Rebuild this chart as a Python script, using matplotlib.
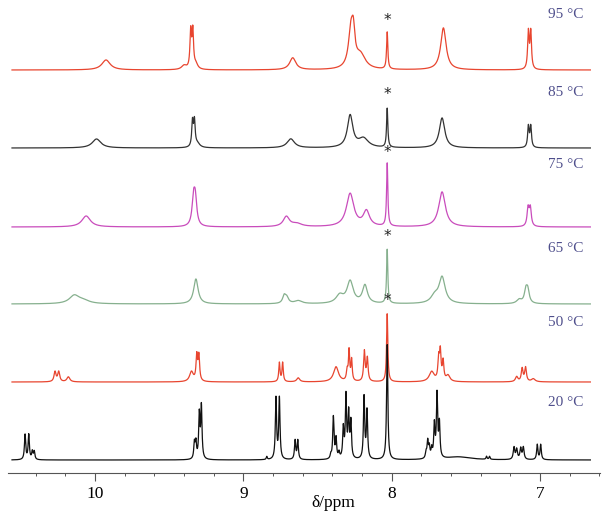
import numpy as np
import matplotlib
matplotlib.use("Agg")
import matplotlib.pyplot as plt
from matplotlib.ticker import MultipleLocator

# Peak lists: (shift / ppm, height / px, half width / ppm)
PEAKS_95 = [(9.926, 10, 0.034), (9.40, 4, 0.02), (9.355, 37, 0.006), (9.341, 37, 0.006),
            (9.32, 5, 0.015), (8.667, 12, 0.025), (8.274, 38, 0.02), (8.258, 24, 0.012),
            (8.21, 14, 0.04), (8.03, 37, 0.005), (7.651, 42, 0.022),
            (7.078, 37, 0.006), (7.062, 37, 0.006)]
PEAKS_85 = [(9.99, 9, 0.035), (9.343, 25, 0.006), (9.330, 25, 0.006), (9.31, 4, 0.02),
            (8.68, 9, 0.03), (8.28, 32, 0.022), (8.19, 9, 0.04), (8.03, 39, 0.005),
            (7.66, 30, 0.022), (7.078, 21, 0.006), (7.062, 21, 0.006)]
PEAKS_75 = [(10.06, 11, 0.035), (9.336, 25, 0.012), (9.324, 25, 0.012), (8.71, 10, 0.025),
            (8.64, 3, 0.04), (8.28, 33, 0.03), (8.17, 15, 0.025), (8.03, 63, 0.005),
            (7.66, 35, 0.027), (7.08, 18, 0.008), (7.065, 18, 0.008)]
PEAKS_65 = [(10.14, 8, 0.04), (10.08, 3, 0.05), (9.32, 25, 0.018), (8.725, 7, 0.012),
            (8.708, 6, 0.015), (8.63, 3, 0.03), (8.35, 8, 0.03), (8.28, 22, 0.025),
            (8.18, 18, 0.02), (8.03, 54, 0.005), (7.71, 7, 0.03), (7.66, 26, 0.025),
            (7.14, 4, 0.02), (7.095, 12, 0.012), (7.082, 12, 0.012)]
PEAKS_50 = [(10.27, 10, 0.008), (10.245, 10, 0.008), (10.18, 5, 0.012), (9.35, 10, 0.015),
            (9.314, 25, 0.006), (9.300, 25, 0.006), (8.757, 19, 0.005), (8.735, 19, 0.005),
            (8.63, 4, 0.012), (8.375, 15, 0.02), (8.30, 10, 0.006), (8.287, 30, 0.005),
            (8.27, 21, 0.005), (8.184, 30, 0.006), (8.164, 23, 0.006), (8.03, 68, 0.005),
            (7.73, 10, 0.02), (7.683, 21, 0.006), (7.672, 28, 0.006), (7.653, 19, 0.006),
            (7.62, 6, 0.015), (7.157, 5, 0.01), (7.12, 13, 0.007), (7.097, 14, 0.007),
            (7.045, 3, 0.015)]
PEAKS_20 = [(10.472, 25, 0.005), (10.447, 25, 0.005), (10.423, 8, 0.005), (10.41, 8, 0.005),
            (9.33, 16, 0.005), (9.32, 16, 0.005), (9.297, 44, 0.005), (9.283, 52, 0.005),
            (8.842, 3, 0.004), (8.78, 61, 0.005), (8.757, 61, 0.005), (8.651, 19, 0.005),
            (8.633, 19, 0.005), (8.41, 4, 0.005), (8.393, 42, 0.005), (8.375, 20, 0.005),
            (8.355, 6, 0.005), (8.326, 30, 0.005), (8.308, 62, 0.005), (8.29, 44, 0.005),
            (8.275, 36, 0.005), (8.186, 62, 0.005), (8.166, 48, 0.005), (8.03, 115, 0.005),
            (7.768, 6, 0.005), (7.757, 17, 0.005), (7.746, 11, 0.005), (7.73, 9, 0.005),
            (7.712, 33, 0.005), (7.694, 63, 0.005), (7.678, 34, 0.005), (7.55, 3, 0.1),
            (7.36, 3, 0.004), (7.34, 3, 0.004), (7.175, 12, 0.006), (7.157, 10, 0.006),
            (7.13, 11, 0.006), (7.112, 12, 0.006), (7.018, 15, 0.005), (6.995, 15, 0.005)]

TEMPS = ["95 °C", "85 °C", "75 °C", "65 °C", "50 °C", "20 °C"]
SOLVENT_PPM = 8.03

# layout / style
BASELINES = [403, 325, 246, 169, 91, 13]   # px above axis line
LABEL_DY = [55, 56, 62, 56, 60, 58]
STAR_DY = [49, 53, 74, 68, 81, None]
COLORS = ["#e8452f", "#333333", "#c94cbc", "#86b08e", "#e8452f", "#111111"]
W, H = 602, 515


def spectrum(x, peaks):
    y = np.zeros_like(x)
    for p, h, w in peaks:
        y += h / (1 + ((x - p) / w) ** 2)
    return y


x = np.linspace(10.56, 6.66, 9000)
all_peaks = [PEAKS_95, PEAKS_85, PEAKS_75, PEAKS_65, PEAKS_50, PEAKS_20]

fig = plt.figure(figsize=(W / 100, H / 100), dpi=100)
ax = fig.add_axes([8 / W, 1 - 473 / H, 592 / W, 473 / H])
ax.set_xlim(10.587, 6.595)
ax.set_ylim(0, 473)

for peaks, base, col, lab, ldy, sdy in zip(all_peaks, BASELINES, COLORS, TEMPS, LABEL_DY, STAR_DY):
    ax.plot(x, base + spectrum(x, peaks), color=col, lw=0.9)
    ax.text(6.705, base + ldy, lab, ha="right", va="center", color="#4f4f8c",
            fontsize=11, family="Liberation Serif")
    if sdy is not None:
        ax.text(SOLVENT_PPM, base + sdy, "*", ha="center", va="center",
                fontsize=11, color="#222222")

for s in ["top", "left", "right"]:
    ax.spines[s].set_visible(False)
ax.spines["bottom"].set_color("#555555")
ax.spines["bottom"].set_linewidth(0.8)
ax.set_yticks([])
ax.xaxis.set_major_locator(MultipleLocator(1))
ax.xaxis.set_minor_locator(MultipleLocator(0.2))
ax.tick_params(axis="x", which="major", length=6, width=0.8, color="#555555", pad=3)
ax.tick_params(axis="x", which="minor", length=2.5, width=0.7, color="#555555")
ax.set_xticks([10, 9, 8, 7])
ax.set_xticklabels(["10", "9", "8", "7"], family="Liberation Serif", fontsize=12.5)

fig.text(333 / W, 1 - 503 / H, "δ/ppm", ha="center", va="center",
         family="Liberation Serif", fontsize=12.5)

fig.savefig("out.png", dpi=100)
